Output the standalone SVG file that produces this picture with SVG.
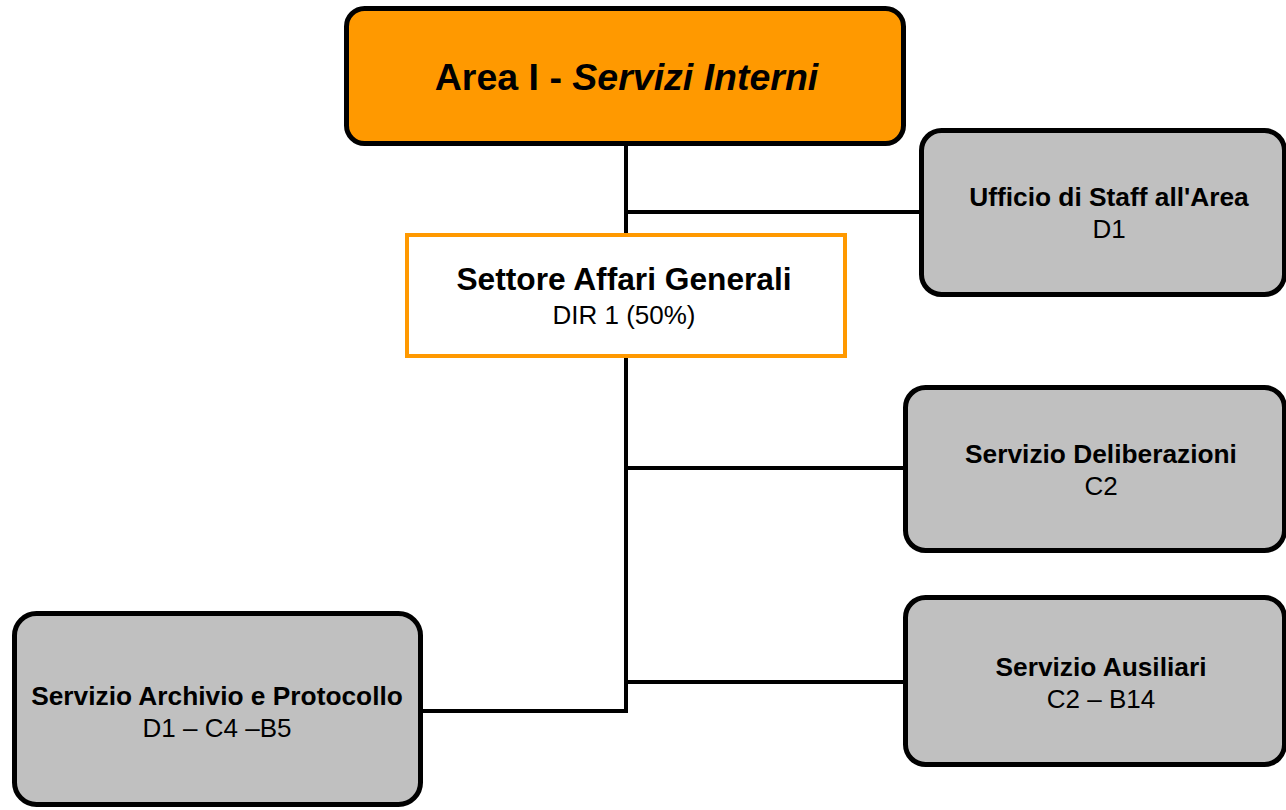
<svg xmlns="http://www.w3.org/2000/svg" width="1286" height="810" viewBox="0 0 1286 810">
<style>
.box{fill:#C0C0C0;stroke:#000;stroke-width:5}
.conn{stroke:#000;stroke-width:4;fill:none}
text{font-family:"Liberation Sans",Arial,sans-serif;fill:#000;text-anchor:middle}
.t{font-weight:bold;font-size:26.3px}
.s{font-size:26px}
</style>
<rect width="1286" height="810" fill="#fff"/>
<g id="connectors">
<line class="conn" x1="626" y1="143" x2="626" y2="713"/>
<line class="conn" x1="626" y1="212" x2="921" y2="212"/>
<line class="conn" x1="626" y1="468" x2="905" y2="468"/>
<line class="conn" x1="626" y1="682" x2="905" y2="682"/>
<line class="conn" x1="420" y1="711" x2="628" y2="711"/>
</g>
<g id="area">
<rect x="346.5" y="8.5" width="557" height="135" rx="18" fill="#FF9900" stroke="#000" stroke-width="5"/>
<text x="626.5" y="90" font-size="37.5" font-weight="bold">Area I - <tspan font-style="italic">Servizi Interni</tspan></text>
</g>
<g id="staff">
<rect class="box" x="921.5" y="130.5" width="363" height="164" rx="20"/>
<text class="t" x="1109" y="206">Ufficio di Staff all'Area</text>
<text class="s" x="1109" y="238">D1</text>
</g>
<g id="settore">
<rect x="407" y="235" width="438" height="121" fill="#fff" stroke="#FF9900" stroke-width="4"/>
<text x="624" y="290" font-size="31.7" font-weight="bold">Settore Affari Generali</text>
<text class="s" x="624" y="324">DIR 1 (50%)</text>
</g>
<g id="deliberazioni">
<rect class="box" x="905.5" y="387.5" width="379" height="163" rx="20"/>
<text class="t" x="1101" y="463">Servizio Deliberazioni</text>
<text class="s" x="1101" y="495">C2</text>
</g>
<g id="ausiliari">
<rect class="box" x="905.5" y="597.5" width="379" height="167" rx="20"/>
<text class="t" x="1101" y="676">Servizio Ausiliari</text>
<text class="s" x="1101" y="708">C2 – B14</text>
</g>
<g id="archivio">
<rect class="box" x="14.5" y="613.5" width="406" height="191" rx="22"/>
<text class="t" x="217" y="705">Servizio Archivio e Protocollo</text>
<text class="s" x="217" y="737">D1 – C4 –B5</text>
</g>
</svg>
